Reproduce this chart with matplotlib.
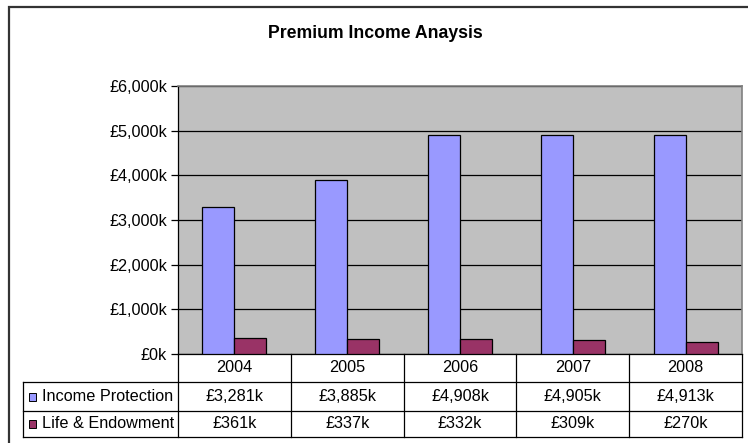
import matplotlib.pyplot as plt
import matplotlib.transforms as mtransforms
from matplotlib.patches import Rectangle
from matplotlib.ticker import FuncFormatter
import numpy as np

plt.rcParams['font.family'] = ['Liberation Sans', 'DejaVu Sans']

# chart data
years = ['2004', '2005', '2006', '2007', '2008']
series_names = ['Income Protection', 'Life & Endowment']
income_protection = [3281, 3885, 4908, 4905, 4913]
life_endowment = [361, 337, 332, 309, 270]
series_colors = ['#9999FF', '#993366']
y_ticks = [0, 1000, 2000, 3000, 4000, 5000, 6000]

W, H = 748, 443
FS = 11.7


def fx(px):
    return px / W


def fy(py):
    return 1 - py / H


fig = plt.figure(figsize=(W / 100, H / 100), dpi=100)

# outer chart frame (runs off the right/bottom edge like the original)
fig.patches.append(Rectangle((fx(9), fy(470)), fx(800), fy(7) - fy(470),
                             transform=fig.transFigure, fill=False,
                             edgecolor='#333333', linewidth=1.6))

ax = fig.add_axes([fx(178), fy(354), fx(742) - fx(178), fy(86) - fy(354)])
ax.set_facecolor('#C0C0C0')

x = np.arange(len(years))
bw = 0.283
ax.bar(x - bw / 2, income_protection, bw, color=series_colors[0],
       edgecolor='black', linewidth=0.9, zorder=3)
ax.bar(x + bw / 2, life_endowment, bw, color=series_colors[1],
       edgecolor='black', linewidth=0.9, zorder=3)

ax.set_xlim(-0.5, len(years) - 0.5)
ax.set_ylim(0, 6000)
ax.set_yticks(y_ticks)
ax.yaxis.set_major_formatter(FuncFormatter(lambda v, p: f'£{v:,.0f}k'))
ax.yaxis.grid(True, color='black', linewidth=0.9, zorder=1)
ax.set_xticks([])
ax.tick_params(axis='y', direction='out', length=5, width=0.9, pad=3,
               labelsize=FS)
for side in ['top', 'right']:
    ax.spines[side].set_color('#808080')
    ax.spines[side].set_linewidth(1.2)
ax.spines['left'].set_linewidth(0.9)
ax.spines['bottom'].set_linewidth(0.9)

fig.text(fx(375), fy(34), 'Premium Income Anaysis', ha='center', va='center',
         fontsize=12.7, fontweight='bold')

# data table under the plot
trans = mtransforms.blended_transform_factory(ax.transData, fig.transFigure)
row_y = [354, 382, 411, 437]
lw = 0.9
for i in range(len(years) + 1):
    ax.plot([i - 0.5, i - 0.5], [fy(row_y[0]), fy(row_y[-1])], color='black',
            lw=lw, transform=trans, clip_on=False)
for r in row_y[1:]:
    fig.add_artist(plt.Line2D([fx(23), fx(742)], [fy(r), fy(r)], color='black',
                              lw=lw, transform=fig.transFigure))
fig.add_artist(plt.Line2D([fx(23), fx(23)], [fy(row_y[1]), fy(row_y[-1])],
                          color='black', lw=lw, transform=fig.transFigure))

for i, yr in enumerate(years):
    ax.text(i, fy((row_y[0] + row_y[1]) / 2), yr, transform=trans,
            ha='center', va='center', fontsize=FS)

for k, (name, vals) in enumerate(zip(series_names, [income_protection, life_endowment])):
    yc = fy((row_y[k + 1] + row_y[k + 2]) / 2)
    fig.patches.append(Rectangle((fx(29), yc - 4 / H), 7 / W, 8 / H,
                                 transform=fig.transFigure,
                                 facecolor=series_colors[k], edgecolor='black',
                                 linewidth=0.7))
    fig.text(fx(42), yc, name, ha='left', va='center', fontsize=FS)
    for i, v in enumerate(vals):
        ax.text(i, yc, f'£{v:,}k', transform=trans, ha='center', va='center',
                fontsize=FS)

fig.savefig('out.png', dpi=100)
